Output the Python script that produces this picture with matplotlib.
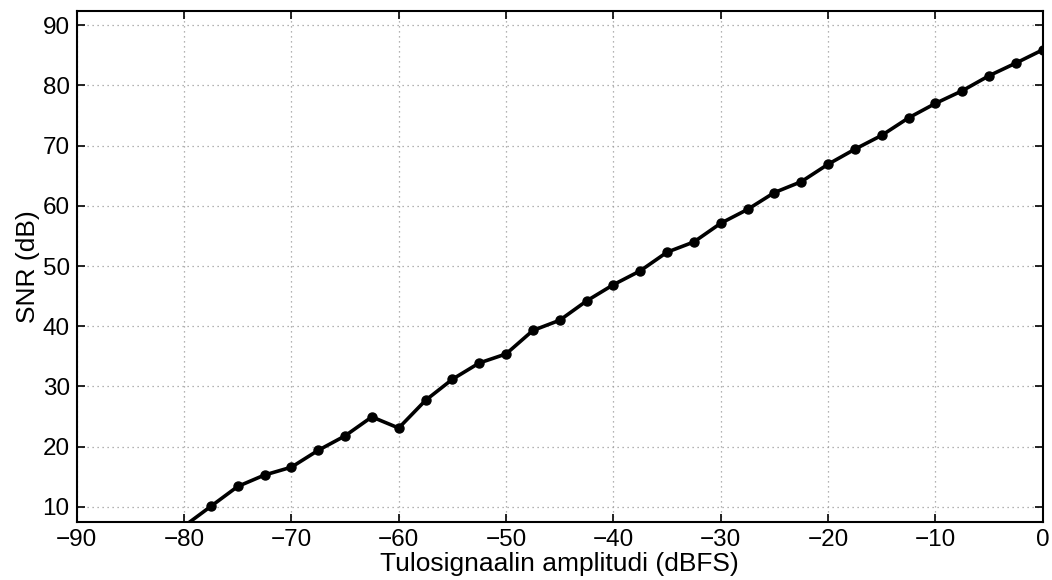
import matplotlib
matplotlib.use("Agg")
import matplotlib.pyplot as plt
import numpy as np

# input amplitude (dBFS) and measured SNR (dB)
amplitude = np.arange(-80, 0.1, 2.5)
snr = [6.8, 10.1, 13.4, 15.3, 16.6, 19.4, 21.8, 24.95, 23.1, 27.7,
       31.2, 33.9, 35.4, 39.3, 41.0, 44.2, 46.9, 49.2, 52.3, 54.0,
       57.1, 59.4, 62.2, 64.0, 66.9, 69.4, 71.7, 74.6, 77.0, 79.1,
       81.6, 83.7, 85.9]

plt.rcParams["font.family"] = ["Liberation Sans", "DejaVu Sans"]

fig = plt.figure(figsize=(10.52, 5.8), dpi=100)
ax = fig.add_axes([0.0729, 0.1, 0.9183, 0.8816])

ax.plot(amplitude, snr, color="black", linewidth=2.6, marker="o",
        markersize=6.5, clip_on=True)

ax.set_xlim(-90, 0)
ax.set_ylim(7.5, 92.4)
ax.set_xticks(np.arange(-90, 1, 10))
ax.set_yticks(np.arange(10, 91, 10))

ax.grid(True, color="#9a9a9a", linestyle=(0, (1, 3)), linewidth=0.9)
ax.tick_params(direction="in", length=6, width=1.2, labelsize=17.5,
               top=True, right=True)
ax.tick_params(axis="x", pad=5)
ax.tick_params(axis="y", pad=5)
for s in ax.spines.values():
    s.set_linewidth(1.5)

ax.set_xlabel("Tulosignaalin amplitudi (dBFS)", fontsize=19, labelpad=1)
ax.set_ylabel("SNR (dB)", fontsize=19, labelpad=2)

fig.savefig("out.png", dpi=100)
